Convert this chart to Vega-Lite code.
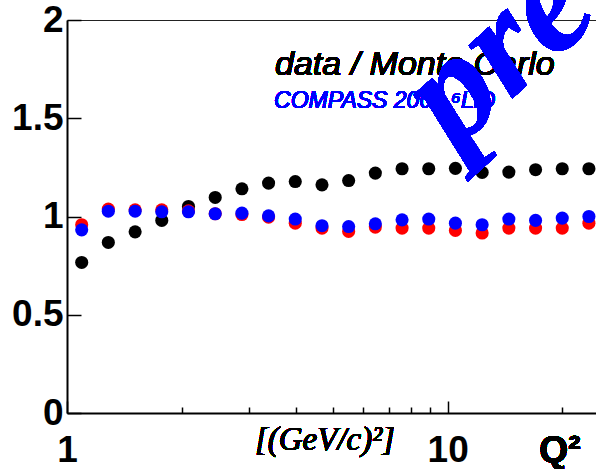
{
  "$schema": "https://vega.github.io/schema/vega-lite/v6.json",
  "width": 529,
  "height": 393,
  "autosize": {"type": "none"},
  "padding": {"left": 67, "top": 20, "right": 0, "bottom": 56},
  "background": "white",
  "config": {"view": {"stroke": null}, "axis": {"grid": false}},
  "datasets": {
    "pts": [
      {"x": 1.093, "ratio": 0.766, "series": "data"},
      {"x": 1.284, "ratio": 0.868, "series": "data"},
      {"x": 1.510, "ratio": 0.922, "series": "data"},
      {"x": 1.774, "ratio": 0.980, "series": "data"},
      {"x": 2.085, "ratio": 1.051, "series": "data"},
      {"x": 2.451, "ratio": 1.097, "series": "data"},
      {"x": 2.881, "ratio": 1.141, "series": "data"},
      {"x": 3.385, "ratio": 1.170, "series": "data"},
      {"x": 3.978, "ratio": 1.178, "series": "data"},
      {"x": 4.676, "ratio": 1.161, "series": "data"},
      {"x": 5.494, "ratio": 1.183, "series": "data"},
      {"x": 6.457, "ratio": 1.221, "series": "data"},
      {"x": 7.590, "ratio": 1.243, "series": "data"},
      {"x": 8.919, "ratio": 1.243, "series": "data"},
      {"x": 10.48, "ratio": 1.245, "series": "data"},
      {"x": 12.32, "ratio": 1.224, "series": "data"},
      {"x": 14.48, "ratio": 1.226, "series": "data"},
      {"x": 17.02, "ratio": 1.238, "series": "data"},
      {"x": 20.00, "ratio": 1.243, "series": "data"},
      {"x": 23.50, "ratio": 1.243, "series": "data"},
      {"x": 1.093, "ratio": 0.958, "series": "red"},
      {"x": 1.284, "ratio": 1.038, "series": "red"},
      {"x": 1.510, "ratio": 1.034, "series": "red"},
      {"x": 1.774, "ratio": 1.034, "series": "red"},
      {"x": 2.085, "ratio": 1.029, "series": "red"},
      {"x": 2.451, "ratio": 1.014, "series": "red"},
      {"x": 2.881, "ratio": 1.010, "series": "red"},
      {"x": 3.385, "ratio": 0.997, "series": "red"},
      {"x": 3.978, "ratio": 0.966, "series": "red"},
      {"x": 4.676, "ratio": 0.941, "series": "red"},
      {"x": 5.494, "ratio": 0.924, "series": "red"},
      {"x": 6.457, "ratio": 0.946, "series": "red"},
      {"x": 7.590, "ratio": 0.941, "series": "red"},
      {"x": 8.919, "ratio": 0.941, "series": "red"},
      {"x": 10.48, "ratio": 0.929, "series": "red"},
      {"x": 12.32, "ratio": 0.916, "series": "red"},
      {"x": 14.48, "ratio": 0.941, "series": "red"},
      {"x": 17.02, "ratio": 0.941, "series": "red"},
      {"x": 20.00, "ratio": 0.941, "series": "red"},
      {"x": 23.50, "ratio": 0.966, "series": "red"},
      {"x": 1.093, "ratio": 0.932, "series": "blue"},
      {"x": 1.284, "ratio": 1.027, "series": "blue"},
      {"x": 1.510, "ratio": 1.027, "series": "blue"},
      {"x": 1.774, "ratio": 1.024, "series": "blue"},
      {"x": 2.085, "ratio": 1.024, "series": "blue"},
      {"x": 2.451, "ratio": 1.014, "series": "blue"},
      {"x": 2.881, "ratio": 1.017, "series": "blue"},
      {"x": 3.385, "ratio": 1.003, "series": "blue"},
      {"x": 3.978, "ratio": 0.987, "series": "blue"},
      {"x": 4.676, "ratio": 0.953, "series": "blue"},
      {"x": 5.494, "ratio": 0.949, "series": "blue"},
      {"x": 6.457, "ratio": 0.963, "series": "blue"},
      {"x": 7.590, "ratio": 0.983, "series": "blue"},
      {"x": 8.919, "ratio": 0.987, "series": "blue"},
      {"x": 10.48, "ratio": 0.966, "series": "blue"},
      {"x": 12.32, "ratio": 0.958, "series": "blue"},
      {"x": 14.48, "ratio": 0.987, "series": "blue"},
      {"x": 17.02, "ratio": 0.980, "series": "blue"},
      {"x": 20.00, "ratio": 0.992, "series": "blue"},
      {"x": 23.50, "ratio": 1.000, "series": "blue"}
    ]
  },
  "data": {"name": "pts"},
  "resolve": {"axis": {"x": "independent", "y": "independent"}},
  "layer": [
    {
      "transform": [{"filter": "datum.series === 'data'"}],
      "mark": {"type": "point", "filled": true, "size": 172, "opacity": 1, "color": "#000000"},
      "encoding": {
        "x": {
          "field": "x", "type": "quantitative",
          "scale": {"type": "log", "domain": [1, 24.53], "nice": false},
          "axis": {
            "orient": "bottom", "values": [1, 10], "format": "~g", "title": null,
            "tickSize": -12, "tickWidth": 1.5, "tickColor": "#000000",
            "domainWidth": 2, "domainColor": "#000000",
            "labelFont": "Liberation Sans", "labelFontWeight": "bold", "labelFontSize": 37,
            "labelColor": "#000000", "labelPadding": 31, "labelFlush": false, "labelOverlap": false
          }
        },
        "y": {
          "field": "ratio", "type": "quantitative",
          "scale": {"domain": [0, 2], "nice": false},
          "axis": {
            "orient": "left", "values": [0, 0.5, 1, 1.5, 2], "format": "~g", "title": null,
            "tickSize": -14, "tickWidth": 1.5, "tickColor": "#000000",
            "domainWidth": 2, "domainColor": "#000000",
            "labelFont": "Liberation Sans", "labelFontWeight": "bold", "labelFontSize": 37,
            "labelColor": "#000000", "labelPadding": 18, "labelOverlap": false
          }
        }
      }
    },
    {
      "transform": [{"filter": "datum.series === 'red'"}],
      "mark": {"type": "point", "filled": true, "size": 172, "opacity": 1, "color": "#ff0000"},
      "encoding": {
        "x": {
          "field": "x", "type": "quantitative",
          "axis": {
            "orient": "bottom", "values": [2, 3, 4, 5, 6, 7, 8, 9, 20], "title": null,
            "labels": false, "domain": false,
            "tickSize": -6, "tickWidth": 1.5, "tickColor": "#000000"
          }
        },
        "y": {"field": "ratio", "type": "quantitative", "axis": null}
      }
    },
    {
      "transform": [{"filter": "datum.series === 'blue'"}],
      "mark": {"type": "point", "filled": true, "size": 172, "opacity": 1, "color": "#0000ff"},
      "encoding": {
        "x": {
          "field": "x", "type": "quantitative",
          "axis": {
            "orient": "top", "values": [], "title": null, "labels": false, "ticks": false,
            "domain": true, "domainWidth": 1, "domainColor": "#222222"
          }
        },
        "y": {"field": "ratio", "type": "quantitative", "axis": null}
      }
    },
    {
      "mark": {"type": "text", "text": "data / Monte Carlo", "font": "Liberation Sans", "fontStyle": "italic", "fontSize": 34, "color": "#000000", "align": "left", "baseline": "alphabetic"},
      "encoding": {
        "x": {"datum": 3.52, "type": "quantitative", "axis": null},
        "y": {"datum": 1.721, "type": "quantitative", "axis": null}
      }
    },
    {
      "mark": {"type": "text", "text": "COMPASS 2004 ⁶LiD", "font": "Liberation Sans", "fontStyle": "italic", "fontSize": 23, "color": "#0000ff", "align": "left", "baseline": "alphabetic"},
      "encoding": {
        "x": {"datum": 3.5, "type": "quantitative", "axis": null},
        "y": {"datum": 1.551, "type": "quantitative", "axis": null}
      }
    },
    {
      "mark": {"type": "text", "text": "[(GeV/c)²]", "font": "Liberation Serif", "fontStyle": "italic", "fontSize": 33, "color": "#000000", "align": "center", "baseline": "alphabetic"},
      "encoding": {
        "x": {"datum": 4.76, "type": "quantitative", "axis": null},
        "y": {"datum": -0.187, "type": "quantitative", "axis": null}
      }
    },
    {
      "mark": {"type": "text", "text": "Q²", "font": "Liberation Sans", "fontWeight": "bold", "fontSize": 37, "color": "#000000", "align": "center", "baseline": "alphabetic"},
      "encoding": {
        "x": {"datum": 19.72, "type": "quantitative", "axis": null},
        "y": {"datum": -0.248, "type": "quantitative", "axis": null}
      }
    },
    {
      "mark": {"type": "text", "text": "preliminary", "font": "Liberation Serif", "fontStyle": "italic", "fontWeight": "bold", "fontSize": 150, "color": "#0000ff", "align": "left", "baseline": "alphabetic", "angle": -42},
      "encoding": {
        "x": {"datum": 10.4, "type": "quantitative", "axis": null},
        "y": {"datum": 1.335, "type": "quantitative", "axis": null}
      }
    }
  ]
}
